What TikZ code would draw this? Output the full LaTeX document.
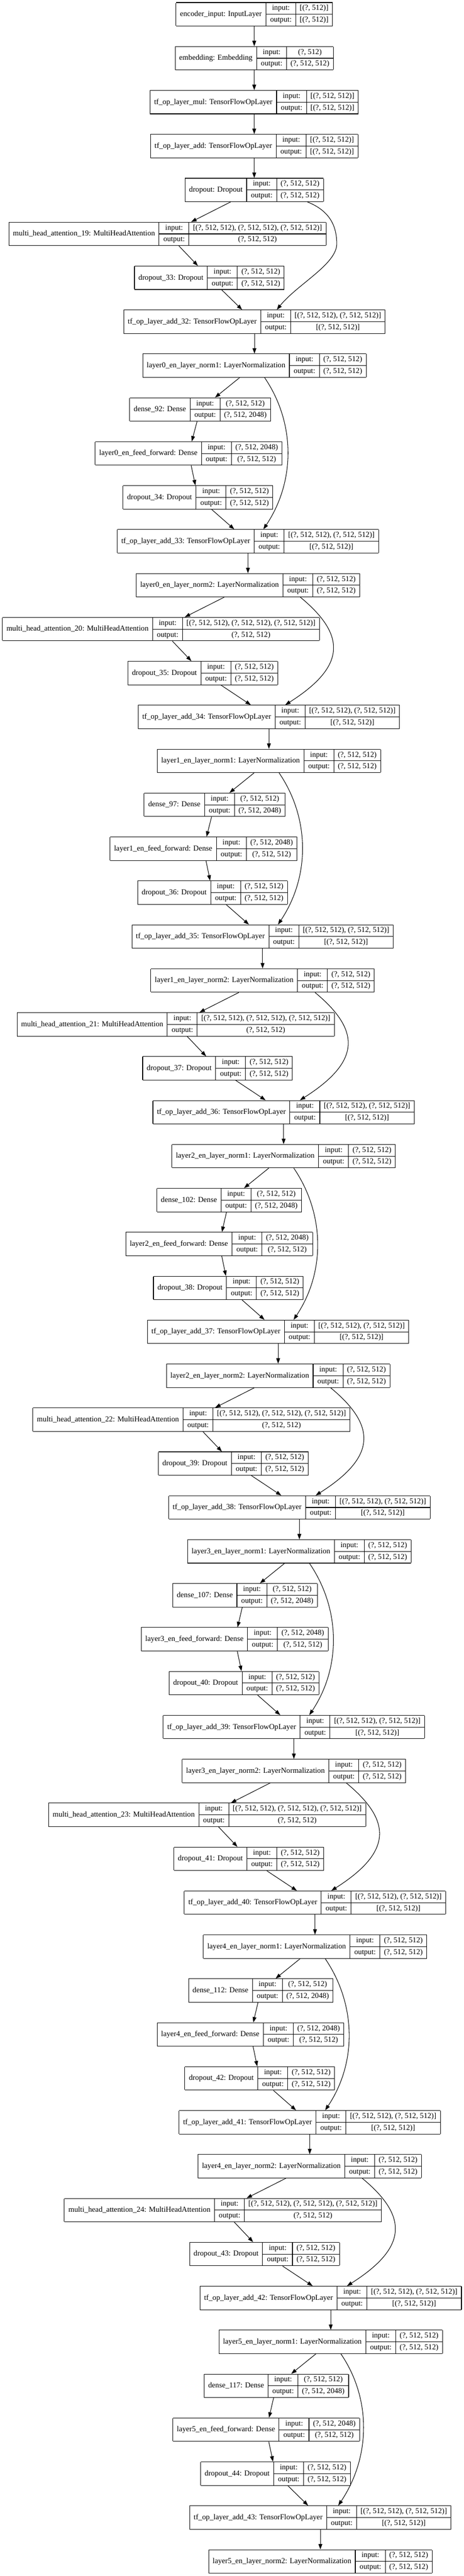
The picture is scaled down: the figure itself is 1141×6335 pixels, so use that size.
\documentclass[tikz,border=0pt]{standalone}
\usepackage{fontspec}
\setmainfont{Liberation Serif}
\usetikzlibrary{arrows.meta}
\usetikzlibrary{calc}
\newcommand\recfont{\fontsize{14pt}{16.8pt}\selectfont}
\newcommand\cellstrut{\rule[-7pt]{0pt}{20.625pt}}
\renewcommand\arraystretch{0}
\setlength\arrayrulewidth{1pt}
\setlength\tabcolsep{7.5pt}
\newcommand\tsr{(?, 512, 512)}
\newcommand\tsrwide{(?, 512, 2048)}
\newcommand\tsrl{[(?, 512, 512)]}
\newcommand\tsrtwo{[(?, 512, 512), (?, 512, 512)]}
\newcommand\tsrthree{[(?, 512, 512), (?, 512, 512), (?, 512, 512)]}
% record: title | input/output | shapes
\newcommand\recbox[3]{%
  \begin{tabular}{|c|@{}c@{}|}\hline
    #1 & \begin{tabular}{c|c}
           \cellstrut input: & #2\\\hline
           \cellstrut output: & #3
         \end{tabular}\\\hline
  \end{tabular}}
\tikzstyle{record}=[inner sep=0pt,outer sep=0pt,font=\recfont]
\tikzstyle{flow}=[line width=1pt,-{Triangle[length=10pt,width=7pt]}]
% one keras layer: name, x, row, title, input shape, output shape
\newcommand\layerrec[6]{%
  \node[record] (#1) at (#2,{35.2+108*(#3-1)}) {\recbox{#4}{#5}{#6}};
}

\begin{document}
\begin{tikzpicture}[x=0.75pt,y=-0.75pt]
	\fill[white] (0,0) rectangle (1141,6335);
	\useasboundingbox (0,0) rectangle (1141,6335);
	% embedding part
	\layerrec{r1}{625.5}{1}{encoder\_input: InputLayer}{[(?, 512)]}{[(?, 512)]}
	\layerrec{r2}{625.5}{2}{embedding: Embedding}{(?, 512)}{\tsr}
	\layerrec{r3}{625.5}{3}{tf\_op\_layer\_mul: TensorFlowOpLayer}{\tsrl}{\tsrl}
	\layerrec{r4}{625.5}{4}{tf\_op\_layer\_add: TensorFlowOpLayer}{\tsrl}{\tsrl}
	\layerrec{r5}{625.5}{5}{dropout: Dropout}{\tsr}{\tsr}
	\layerrec{r6}{412}{6}{multi\_head\_attention\_19: MultiHeadAttention}{\tsrthree}{\tsr}
	\layerrec{r7}{515}{7}{dropout\_33: Dropout}{\tsr}{\tsr}
	\layerrec{r8}{626}{8}{tf\_op\_layer\_add\_32: TensorFlowOpLayer}{\tsrtwo}{\tsrl}
	% layer 0
	\layerrec{r9}{626}{9}{layer0\_en\_layer\_norm1: LayerNormalization}{\tsr}{\tsr}
	\layerrec{r10}{492.5}{10}{dense\_92: Dense}{\tsr}{\tsrwide}
	\layerrec{r11}{464}{11}{layer0\_en\_feed\_forward: Dense}{\tsrwide}{\tsr}
	\layerrec{r12}{487}{12}{dropout\_34: Dropout}{\tsr}{\tsr}
	\layerrec{r13}{610}{13}{tf\_op\_layer\_add\_33: TensorFlowOpLayer}{\tsrtwo}{\tsrl}
	\layerrec{r14}{610}{14}{layer0\_en\_layer\_norm2: LayerNormalization}{\tsr}{\tsr}
	\layerrec{r15}{396}{15}{multi\_head\_attention\_20: MultiHeadAttention}{\tsrthree}{\tsr}
	\layerrec{r16}{499}{16}{dropout\_35: Dropout}{\tsr}{\tsr}
	\layerrec{r17}{661.6}{17}{tf\_op\_layer\_add\_34: TensorFlowOpLayer}{\tsrtwo}{\tsrl}
	% layer 1
	\layerrec{r18}{661.6}{18}{layer1\_en\_layer\_norm1: LayerNormalization}{\tsr}{\tsr}
	\layerrec{r19}{528}{19}{dense\_97: Dense}{\tsr}{\tsrwide}
	\layerrec{r20}{500.7}{20}{layer1\_en\_feed\_forward: Dense}{\tsrwide}{\tsr}
	\layerrec{r21}{523}{21}{dropout\_36: Dropout}{\tsr}{\tsr}
	\layerrec{r22}{646}{22}{tf\_op\_layer\_add\_35: TensorFlowOpLayer}{\tsrtwo}{\tsrl}
	\layerrec{r23}{646}{23}{layer1\_en\_layer\_norm2: LayerNormalization}{\tsr}{\tsr}
	\layerrec{r24}{432.3}{24}{multi\_head\_attention\_21: MultiHeadAttention}{\tsrthree}{\tsr}
	\layerrec{r25}{535.3}{25}{dropout\_37: Dropout}{\tsr}{\tsr}
	\layerrec{r26}{697.8}{26}{tf\_op\_layer\_add\_36: TensorFlowOpLayer}{\tsrtwo}{\tsrl}
	% layer 2
	\layerrec{r27}{697.8}{27}{layer2\_en\_layer\_norm1: LayerNormalization}{\tsr}{\tsr}
	\layerrec{r28}{564}{28}{dense\_102: Dense}{\tsr}{\tsrwide}
	\layerrec{r29}{539.3}{29}{layer2\_en\_feed\_forward: Dense}{\tsrwide}{\tsr}
	\layerrec{r30}{561.9}{30}{dropout\_38: Dropout}{\tsr}{\tsr}
	\layerrec{r31}{684.3}{31}{tf\_op\_layer\_add\_37: TensorFlowOpLayer}{\tsrtwo}{\tsrl}
	\layerrec{r32}{684.3}{32}{layer2\_en\_layer\_norm2: LayerNormalization}{\tsr}{\tsr}
	\layerrec{r33}{471}{33}{multi\_head\_attention\_22: MultiHeadAttention}{\tsrthree}{\tsr}
	\layerrec{r34}{574}{34}{dropout\_39: Dropout}{\tsr}{\tsr}
	\layerrec{r35}{736.5}{35}{tf\_op\_layer\_add\_38: TensorFlowOpLayer}{\tsrtwo}{\tsrl}
	% layer 3
	\layerrec{r36}{736.5}{36}{layer3\_en\_layer\_norm1: LayerNormalization}{\tsr}{\tsr}
	\layerrec{r37}{603}{37}{dense\_107: Dense}{\tsr}{\tsrwide}
	\layerrec{r38}{577.5}{38}{layer3\_en\_feed\_forward: Dense}{\tsrwide}{\tsr}
	\layerrec{r39}{600.4}{39}{dropout\_40: Dropout}{\tsr}{\tsr}
	\layerrec{r40}{723}{40}{tf\_op\_layer\_add\_39: TensorFlowOpLayer}{\tsrtwo}{\tsrl}
	\layerrec{r41}{723}{41}{layer3\_en\_layer\_norm2: LayerNormalization}{\tsr}{\tsr}
	\layerrec{r42}{509.8}{42}{multi\_head\_attention\_23: MultiHeadAttention}{\tsrthree}{\tsr}
	\layerrec{r43}{612}{43}{dropout\_41: Dropout}{\tsr}{\tsr}
	\layerrec{r44}{775}{44}{tf\_op\_layer\_add\_40: TensorFlowOpLayer}{\tsrtwo}{\tsrl}
	% layer 4
	\layerrec{r45}{775}{45}{layer4\_en\_layer\_norm1: LayerNormalization}{\tsr}{\tsr}
	\layerrec{r46}{641.5}{46}{dense\_112: Dense}{\tsr}{\tsrwide}
	\layerrec{r47}{616.4}{47}{layer4\_en\_feed\_forward: Dense}{\tsrwide}{\tsr}
	\layerrec{r48}{639}{48}{dropout\_42: Dropout}{\tsr}{\tsr}
	\layerrec{r49}{762}{49}{tf\_op\_layer\_add\_41: TensorFlowOpLayer}{\tsrtwo}{\tsrl}
	\layerrec{r50}{762}{50}{layer4\_en\_layer\_norm2: LayerNormalization}{\tsr}{\tsr}
	\layerrec{r51}{548.4}{51}{multi\_head\_attention\_24: MultiHeadAttention}{\tsrthree}{\tsr}
	\layerrec{r52}{650.7}{52}{dropout\_43: Dropout}{\tsr}{\tsr}
	\layerrec{r53}{813.7}{53}{tf\_op\_layer\_add\_42: TensorFlowOpLayer}{\tsrtwo}{\tsrl}
	% layer 5
	\layerrec{r54}{813.7}{54}{layer5\_en\_layer\_norm1: LayerNormalization}{\tsr}{\tsr}
	\layerrec{r55}{680}{55}{dense\_117: Dense}{\tsr}{\tsrwide}
	\layerrec{r56}{655}{56}{layer5\_en\_feed\_forward: Dense}{\tsrwide}{\tsr}
	\layerrec{r57}{677.9}{57}{dropout\_44: Dropout}{\tsr}{\tsr}
	\layerrec{r58}{788.2}{58}{tf\_op\_layer\_add\_43: TensorFlowOpLayer}{\tsrtwo}{\tsrl}
	\layerrec{r59}{788.2}{59}{layer5\_en\_layer\_norm2: LayerNormalization}{\tsr}{\tsr}
	% main chain
	\foreach \i in {1,...,58}{
		\pgfmathtruncatemacro\j{\i+1}
		\draw[flow] (r\i) -- (r\j);
	}
	% residual links
	\draw[flow] ($(r5.south)+(131,0)$) .. controls +(58,23) and +(0,-40) .. ($(r5.south)+(203,103)$)
		.. controls +(0,50) and +(50,-62) .. ($(r8.north)+(55,0)$);
	\foreach \a/\b/\e in {9/13/38,18/22/38,27/31/38,36/40/38,45/49/38,54/58/44}
		\draw[flow] ($(r\a.south)+(25,0)$) .. controls +(75,110) and +(80,-120) .. ($(r\b.north)+(\e,0)$);
	\foreach \a/\b in {14/17,23/26,32/35,41/44,50/53}
		\draw[flow] ($(r\a.south)+(129,0)$) .. controls +(115,95) and +(148,-94) .. ($(r\b.north)+(40,0)$);
\end{tikzpicture}
\end{document}
